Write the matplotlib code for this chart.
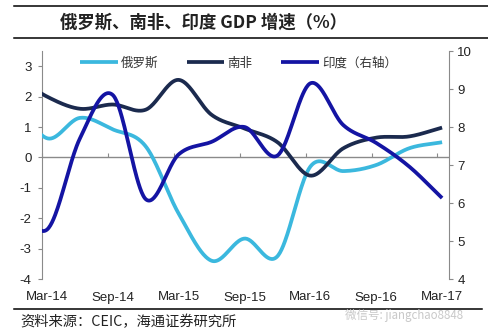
import numpy as np
import matplotlib
matplotlib.use("Agg")
import matplotlib.pyplot as plt
from matplotlib.lines import Line2D

plt.rcParams['font.family'] = ['Liberation Sans', 'Noto Sans CJK SC', 'DejaVu Sans']

# Quarterly GDP growth, % y/y (first quarter only feeds the curve's entry)
quarters = ['Dec-13', 'Mar-14', 'Jun-14', 'Sep-14', 'Dec-14', 'Mar-15', 'Jun-15',
            'Sep-15', 'Dec-15', 'Mar-16', 'Jun-16', 'Sep-16', 'Dec-16', 'Mar-17']
russia = [2.0, 0.63, 1.3, 0.92, 0.36, -1.85, -3.4, -2.67, -3.25, -0.3, -0.45, -0.25, 0.3, 0.5]
south_africa = [2.7, 2.0, 1.6, 1.74, 1.57, 2.55, 1.4, 0.95, 0.5, -0.6, 0.3, 0.65, 0.69, 0.98]
india = [6.3, 5.3, 7.7, 8.84, 6.1, 7.28, 7.61, 8.0, 7.25, 9.15, 8.05, 7.58, 6.96, 6.13]

tick_labels = ['Mar-14', 'Sep-14', 'Mar-15', 'Sep-15', 'Mar-16', 'Sep-16', 'Mar-17']
series_names = ['俄罗斯', '南非', '印度（右轴）']
colors = ['#3bb8de', '#1b2a4e', '#1414a3']

x = np.arange(len(quarters)) - 1.0   # Mar-14 sits at 0


def smooth(xs, ys, n=40):
    """Catmull-Rom curve through every point (same idea as Excel's smoothed line)."""
    xs = np.asarray(xs, float)
    ys = np.asarray(ys, float)
    m = np.empty_like(ys)
    m[1:-1] = (ys[2:] - ys[:-2]) / 2.0
    m[0] = ys[1] - ys[0]
    m[-1] = ys[-1] - ys[-2]
    out_x, out_y = [], []
    for i in range(len(xs) - 1):
        t = np.linspace(0, 1, n, endpoint=(i == len(xs) - 2))
        h00 = 2 * t**3 - 3 * t**2 + 1
        h10 = t**3 - 2 * t**2 + t
        h01 = -2 * t**3 + 3 * t**2
        h11 = t**3 - t**2
        out_x.append(xs[i] + t * (xs[i + 1] - xs[i]))
        out_y.append(h00 * ys[i] + h10 * m[i] + h01 * ys[i + 1] + h11 * m[i + 1])
    return np.concatenate(out_x), np.concatenate(out_y)


fig = plt.figure(figsize=(4.89, 3.33), dpi=100)
fig.patch.set_facecolor('white')
ax = fig.add_axes([42 / 489, 54 / 333, 407 / 489, 228 / 333])
ax2 = ax.twinx()

spine_c = '#8a8a8a'
ax.axhline(0, color=spine_c, lw=1.0, zorder=1)

lw = 2.7
sx, sy = smooth(x, russia)
h1, = ax.plot(sx, sy, color=colors[0], lw=lw, solid_capstyle='butt', zorder=3)
sx, sy = smooth(x, south_africa)
h2, = ax.plot(sx, sy, color=colors[1], lw=lw, solid_capstyle='butt', zorder=3)
sx, sy = smooth(x, india)
h3, = ax2.plot(sx, sy, color=colors[2], lw=lw, solid_capstyle='butt')

xmin, xmax = -0.152, 12.21
ax.set_xlim(xmin, xmax)
ax.set_ylim(-4, 3.5)
ax2.set_ylim(4, 10)

for s in ['top', 'bottom', 'right']:
    ax.spines[s].set_visible(False)
for s in ['top', 'bottom', 'left']:
    ax2.spines[s].set_visible(False)
ax.spines['left'].set_color(spine_c)
ax2.spines['right'].set_color(spine_c)

ax.set_yticks(np.arange(-4, 4, 1))
ax.set_yticklabels([str(v) for v in range(-4, 4)])
ax2.set_yticks(np.arange(4, 11, 1))
ax.tick_params(axis='y', direction='out', length=3, color=spine_c, pad=4.5,
               labelsize=9.5, labelcolor='#222222')
ax2.tick_params(axis='y', direction='out', length=3, color=spine_c, pad=3,
                labelsize=9.5, labelcolor='#222222')

ax.set_xticks(np.arange(0, 13, 2))
ax.set_xticklabels(tick_labels)
ax.tick_params(axis='x', length=0, pad=9, labelsize=9.5, labelcolor='#222222')

# tick marks hanging from the zero line
zero_frac = (0 - (-4)) / 7.5
sec = ax.secondary_xaxis(zero_frac)
sec.set_xticks(np.arange(0, 13, 2) - 0.14)
sec.set_xticklabels([])
sec.tick_params(axis='x', direction='out', length=3, color=spine_c)
for s in sec.spines.values():
    s.set_visible(False)

leg = fig.legend([h1, h2, h3], series_names, loc='center left',
                 bbox_to_anchor=(80 / 489, 1 - 63 / 333), ncol=3, frameon=False,
                 handlelength=3.0, handletextpad=0.25, columnspacing=2.3,
                 borderpad=0, borderaxespad=0,
                 prop={'family': ['Noto Sans CJK SC'], 'size': 9})
for t in leg.get_texts():
    t.set_color('#333333')

# header and footer rules
fig.add_artist(Line2D([14 / 489, 1], [1 - 6 / 333] * 2, color='black', lw=1.1))
fig.add_artist(Line2D([14 / 489, 1], [1 - 38 / 333] * 2, color='black', lw=1.1))
fig.add_artist(Line2D([14 / 489, 482 / 489], [1 - 309 / 333] * 2, color='black', lw=1.1))

fig.text(60 / 489, 1 - 23 / 333, '俄罗斯、南非、印度 GDP 增速（%）', ha='left', va='center',
         fontsize=12.5, fontweight='bold', family=['Noto Sans CJK SC'], color='#222222')
fig.text(20 / 489, 1 - 322 / 333, '资料来源：CEIC，海通证券研究所', ha='left', va='center',
         fontsize=10.3, family=['Noto Sans CJK SC'], color='#222222')
fig.text(345 / 489, 1 - 316 / 333, '微信号: jiangchao8848', ha='left', va='center',
         fontsize=8.3, family=['Noto Sans CJK SC', 'DejaVu Sans'], color='#c9c9c9')

fig.savefig('out.png', dpi=100, facecolor='white')
